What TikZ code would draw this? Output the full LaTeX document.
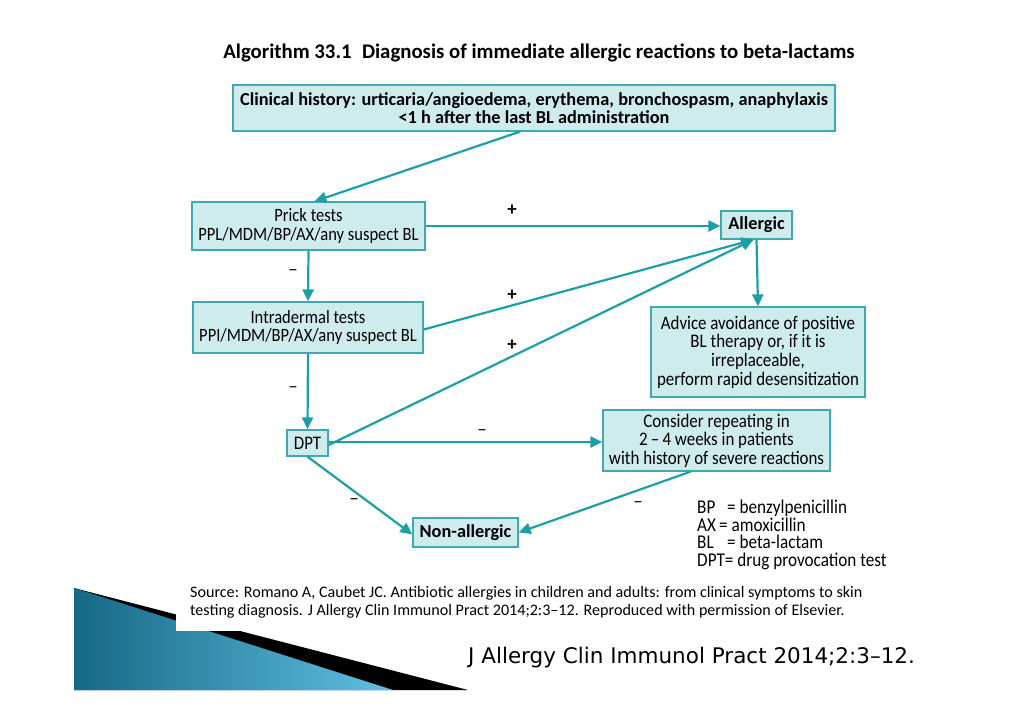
\documentclass[tikz,border=0pt]{standalone}
\usepackage{fontspec}
\setmainfont{Carlito}
\newfontfamily\narrowfont[FakeStretch=0.88]{Carlito}
\newfontfamily\wfont{Carlito}
\newfontfamily\jfont{DejaVu Sans}
\usetikzlibrary{arrows.meta,calc}
\definecolor{boxfill}{RGB}{207,236,236}
\definecolor{boxline}{RGB}{62,170,176}
\definecolor{arr}{RGB}{28,160,166}
\definecolor{darkblue}{RGB}{22,104,134}
\definecolor{lightblue}{RGB}{96,192,224}
\begin{document}
\begin{tikzpicture}[x=1pt,y=-1pt,
  bx/.style={draw=boxline, line width=1.3pt, fill=boxfill, inner sep=0pt, align=center,
    font=\narrowfont\fontsize{19.2}{18.6}\selectfont},
  bbx/.style={bx, font=\wfont\bfseries\fontsize{18.3}{18.3}\selectfont},
  con/.style={draw=arr, line width=2.2pt, -{Triangle[length=12pt,width=11pt]}},
  lab/.style={inner sep=0pt, font=\wfont\fontsize{19}{19}\selectfont},
  leg/.style={inner sep=0pt, anchor=base west, font=\narrowfont\fontsize{19.5}{19.5}\selectfont},
  src/.style={inner sep=0pt, anchor=base west, font=\wfont\fontsize{16.1}{16.1}\selectfont}
]
\useasboundingbox (0,0) rectangle (1024,724);
\fill[white] (0,0) rectangle (1024,724);

% decoration
\fill[black] (74,588) -- (468,690) -- (74,690) -- cycle;
\shade[left color=darkblue, right color=lightblue] (74,588) -- (393,690) -- (74,690) -- cycle;
\fill[white] (176,572) rectangle (905,631);

% title
\node[inner sep=0pt, anchor=base, font=\wfont\bfseries\fontsize{20.8}{20.8}\selectfont] (title) at (539,58)
  {Algorithm 33.1\enspace Diagnosis of immediate allergic reactions to beta-lactams};

% boxes
\node[bbx, minimum width=602pt, minimum height=46pt] (clin) at (534,108)
  {Clinical history: urticaria/angioedema, erythema, bronchospasm, anaphylaxis\\[0pt]
   {<}1 h after the last BL administration};
\node[bx, minimum width=233pt, minimum height=48pt, font=\narrowfont\fontsize{18.8}{18.6}\selectfont] (prick) at (308.5,226)
  {Prick tests\\PPL/MDM/BP/AX/any suspect BL};
\node[bbx, minimum width=71pt, minimum height=28pt] (allergic) at (756.5,225) {Allergic};
\node[bx, minimum width=230pt, minimum height=51pt, font=\narrowfont\fontsize{18.8}{18.6}\selectfont] (intra) at (308,327.5)
  {Intradermal tests\\PPI/MDM/BP/AX/any suspect BL};
\node[bx, minimum width=214pt, minimum height=90pt] (advice) at (758,352)
  {Advice avoidance of positive\\BL therapy or, if it is\\irreplaceable,\\perform rapid desensitization};
\node[bx, minimum width=41pt, minimum height=26pt] (dpt) at (307.5,443) {DPT};
\node[bx, minimum width=227pt, minimum height=61pt] (consider) at (716.5,440.5)
  {Consider repeating in\\2\,–\,4 weeks in patients\\with history of severe reactions};
\node[bbx, minimum width=105pt, minimum height=29pt] (nonall) at (465.5,532.5) {Non-allergic};

% connectors
\draw[con] ([xshift=-14pt]clin.south) -- ([xshift=6pt]prick.north);
\draw[con] (prick.east) -- (prick.east -| allergic.west);
\draw[con] (prick.south) -- (intra.north);
\draw[con] ([yshift=-2pt]intra.east) -- ([xshift=-3pt]allergic.south);
\draw[con] (intra.south) -- (dpt.north);
\draw[con] ([yshift=-2pt]dpt.east) -- ([xshift=-3pt]allergic.south);
\draw[con] (allergic.south) -- (advice.north);
\draw[con] ([yshift=1pt]dpt.east) -- ([yshift=1pt]dpt.east -| consider.west);
\draw[con] (dpt.south) -- ([yshift=-2pt]nonall.west);
\draw[con] ([xshift=-26pt]consider.south) -- (nonall.east);

% labels
\node[lab] (p1) at (512,210) {\textbf{+}};
\node[lab] (p2) at (512,295) {\textbf{+}};
\node[lab] (p3) at (512,345) {\textbf{+}};
\node[lab] (m1) at (293,273) {–};
\node[lab] (m2) at (293,390) {–};
\node[lab] (m3) at (482,433) {–};
\node[lab] (m4) at (354,502) {–};
\node[lab] (m5) at (638,505) {–};

% legend
\node[leg] (l1) at (697,513) {\makebox[30pt][l]{BP}= benzylpenicillin};
\node[leg] (l2) at (697,531) {\makebox[22pt][l]{AX}= amoxicillin};
\node[leg] (l3) at (697,548.5) {\makebox[30pt][l]{BL}= beta-lactam};
\node[leg] (l4) at (697,566) {DPT= drug provocation test};

% source
\node[src] (s1) at (190,597) {Source: Romano A, Caubet JC. Antibiotic allergies in children and adults: from clinical symptoms to skin};
\node[src] (s2) at (190,615) {testing diagnosis. J Allergy Clin Immunol Pract 2014;2:3–12. Reproduced with permission of Elsevier.};

\node[inner sep=0pt, anchor=base west, font=\jfont\fontsize{21.5}{21.5}\selectfont] (cite) at (468,663)
  {J Allergy Clin Immunol Pract 2014;2:3–12.};
\end{tikzpicture}
\end{document}
